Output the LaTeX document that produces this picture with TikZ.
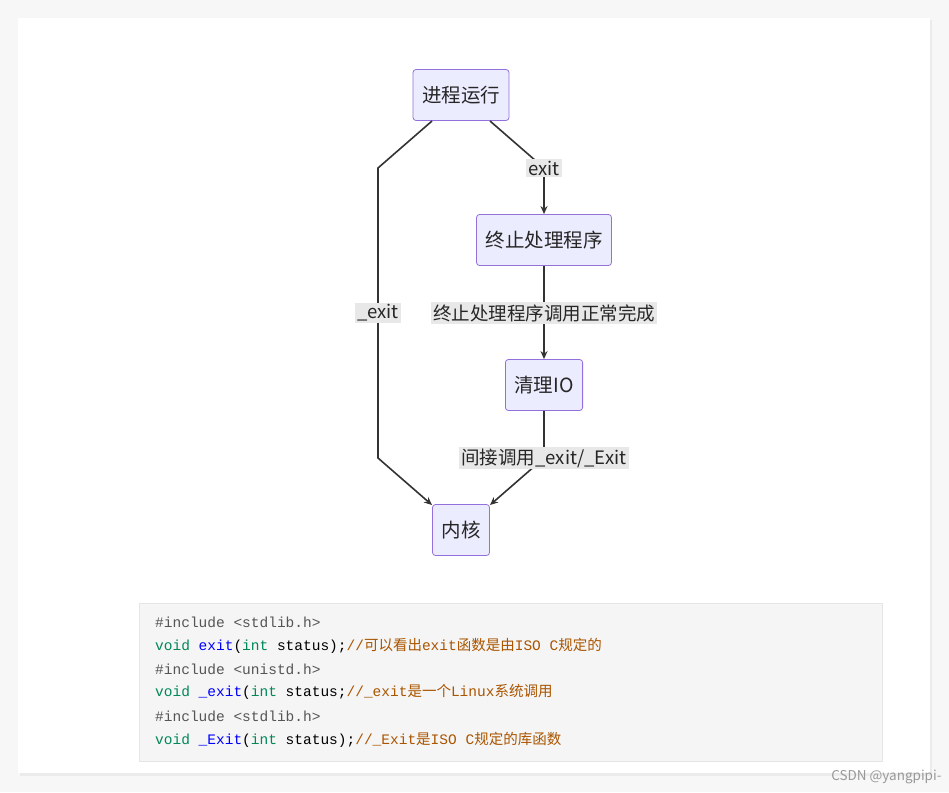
\documentclass[tikz,border=0pt]{standalone}
\usepackage{fontspec}
\setmainfont{Noto Sans CJK SC}
\newfontfamily\cjk{Noto Sans CJK SC}
\setmonofont{Liberation Mono}
\usetikzlibrary{arrows.meta}
\definecolor{nfill}{HTML}{ECECFF}
\definecolor{nline}{HTML}{9370DB}
\definecolor{kw}{HTML}{008855}
\definecolor{fn}{HTML}{0000FF}
\definecolor{cm}{HTML}{AA5500}
\definecolor{pp}{HTML}{555555}
\begin{document}
\begin{tikzpicture}[x=1pt,y=-1pt,
  box/.style={draw=nline,fill=nfill,rounded corners=3pt,line width=0.8pt,minimum height=51pt,inner xsep=9pt,font=\fontsize{19.5}{21}\selectfont,text=black!85},
  lab/.style={fill=black!9,inner sep=2pt,font=\fontsize{18.5}{20}\selectfont,text=black!85},
  edge/.style={draw=black!80,line width=1.6pt,-{Stealth[length=8pt,width=7pt]}},
  code/.style={anchor=west,inner sep=0pt,font=\ttfamily\fontsize{14.5}{16}\selectfont}]
\useasboundingbox (0,0) rectangle (949,792);
\fill[black!3] (0,0) rectangle (949,792);
\fill[black!8] (20,20) rectangle (932,776);
\fill[white] (18,18) rectangle (930,773);
\node[box] (a) at (461,95) {进程运行};
\node[box] (b) at (544,240) {终止处理程序};
\node[box] (c) at (544,385) {清理IO};
\node[box] (d) at (461,530) {内核};
\coordinate (a1) at (432,121);
\coordinate (a2) at (490,121);
\coordinate (k1) at (432,505);
\coordinate (k2) at (490,505);
\draw[edge] (a2) -- (544,168) -- (b.north);
\draw[edge] (a1) -- (378,168) -- (378,458) -- (k1);
\draw[edge] (b.south) -- (c.north);
\draw[edge] (c.south) -- (544,458) -- (k2);
\node[lab] (l1) at (544,168) {exit};
\node[lab] (l2) at (378,313) {\_exit};
\node[lab] (l3) at (544,313) {终止处理程序调用正常完成};
\node[lab] (l4) at (544,458) {间接调用\_exit/\_Exit};
\draw[fill=black!4,draw=black!10] (139,603) rectangle (882,761);
\node[code,text=pp] (c1) at (155,622) {\#include <stdlib.h>};
\node[code] (c2) at (155,646) {\textcolor{kw}{void} \textcolor{fn}{exit}(\textcolor{kw}{int} status);\textcolor{cm}{//{\cjk 可以看出}exit{\cjk 函数是由}ISO C{\cjk 规定的}}};
\node[code,text=pp] (c3) at (155,669) {\#include <unistd.h>};
\node[code] (c4) at (155,692) {\textcolor{kw}{void} \textcolor{fn}{\_exit}(\textcolor{kw}{int} status;\textcolor{cm}{//\_exit{\cjk 是一个}Linux{\cjk 系统调用}}};
\node[code,text=pp] (c5) at (155,716) {\#include <stdlib.h>};
\node[code] (c6) at (155,740) {\textcolor{kw}{void} \textcolor{fn}{\_Exit}(\textcolor{kw}{int} status);\textcolor{cm}{//\_Exit{\cjk 是}ISO C{\cjk 规定的库函数}}};
\node[anchor=east,text=black!40,font=\fontsize{13.5}{15}\selectfont] (wm) at (945,777) {CSDN @yangpipi-};
\end{tikzpicture}
\end{document}
